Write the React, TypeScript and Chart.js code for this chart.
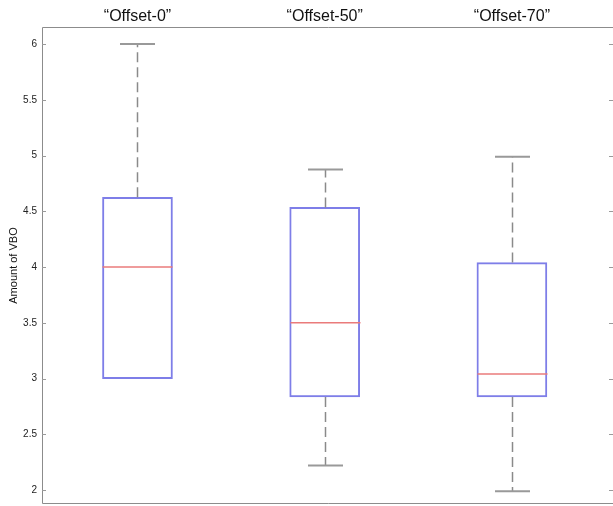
import React, { useEffect, useRef } from "react";
import { Chart, registerables } from "chart.js";

Chart.register(...registerables);

const categories = ["\u201cOffset-0\u201d", "\u201cOffset-50\u201d", "\u201cOffset-70\u201d"];
const whiskerLow = [3.0, 2.22, 1.99];
const q1 = [3.0, 2.835, 2.835];
const median = [4.0, 3.5, 3.04];
const q3 = [4.625, 4.535, 4.04];
const whiskerHigh = [6.0, 4.875, 4.99];
const yTicks = [2, 2.5, 3, 3.5, 4, 4.5, 5, 5.5, 6];
const yTitle = "Amount of VBO";

const FONT = "'Liberation Sans', Arial, Helvetica, sans-serif";

const boxExtras = {
  id: "boxExtras",
  afterDatasetsDraw(chart: any) {
    const { ctx, chartArea, scales } = chart;
    const x = scales.x;
    const y = scales.y;
    const meta = chart.getDatasetMeta(0);
    ctx.save();

    // frame
    ctx.strokeStyle = "#8c8c8c";
    ctx.lineWidth = 1;
    ctx.setLineDash([]);
    ctx.beginPath();
    ctx.moveTo(chartArea.right + 2, chartArea.top + 0.5);
    ctx.lineTo(chartArea.left + 0.5, chartArea.top + 0.5);
    ctx.lineTo(chartArea.left + 0.5, chartArea.bottom - 0.5);
    ctx.lineTo(chartArea.right + 2, chartArea.bottom - 0.5);
    ctx.stroke();

    // inward ticks on both sides
    ctx.strokeStyle = "#9a9a9a";
    yTicks.forEach((t) => {
      const py = Math.round(y.getPixelForValue(t)) + 0.5;
      ctx.beginPath();
      ctx.moveTo(chartArea.left, py);
      ctx.lineTo(chartArea.left + 4, py);
      ctx.moveTo(chartArea.right, py);
      ctx.lineTo(chartArea.right - 4, py);
      ctx.stroke();
    });

    categories.forEach((_, i) => {
      const cx = Math.round(x.getPixelForValue(i + 1)) + 0.5;
      const bar = meta.data[i];
      const half = bar ? bar.width / 2 : 35;
      const pHigh = y.getPixelForValue(whiskerHigh[i]);
      const pLow = y.getPixelForValue(whiskerLow[i]);
      const pQ1 = y.getPixelForValue(q1[i]);
      const pQ3 = y.getPixelForValue(q3[i]);
      const pMed = y.getPixelForValue(median[i]);

      // dashed whiskers
      ctx.strokeStyle = "#8a8a8a";
      ctx.lineWidth = 1.5;
      ctx.setLineDash([10, 5]);
      if (whiskerHigh[i] > q3[i]) {
        ctx.beginPath();
        ctx.moveTo(cx, pQ3);
        ctx.lineTo(cx, pHigh);
        ctx.stroke();
      }
      if (whiskerLow[i] < q1[i]) {
        ctx.beginPath();
        ctx.moveTo(cx, pQ1);
        ctx.lineTo(cx, pLow);
        ctx.stroke();
      }

      // caps
      ctx.setLineDash([]);
      ctx.lineWidth = 2;
      ctx.strokeStyle = "#999999";
      const capHalf = half / 2;
      if (whiskerHigh[i] > q3[i]) {
        ctx.beginPath();
        ctx.moveTo(cx - capHalf, pHigh);
        ctx.lineTo(cx + capHalf, pHigh);
        ctx.stroke();
      }
      if (whiskerLow[i] < q1[i]) {
        ctx.beginPath();
        ctx.moveTo(cx - capHalf, pLow);
        ctx.lineTo(cx + capHalf, pLow);
        ctx.stroke();
      }

      // median
      ctx.strokeStyle = "#ea7b7b";
      ctx.lineWidth = 1.5;
      ctx.beginPath();
      ctx.moveTo(cx - half, pMed);
      ctx.lineTo(cx + half, pMed);
      ctx.stroke();
    });
    ctx.restore();
  },
};

export default function App() {
  const ref = useRef<HTMLCanvasElement | null>(null);

  useEffect(() => {
    if (!ref.current) return;
    const chart = new Chart(ref.current, {
      type: "bar",
      data: {
        datasets: [
          {
            data: categories.map((_, i) => ({ x: i + 1, y: [q1[i], q3[i]] })) as any,
            backgroundColor: "rgba(0,0,0,0)",
            borderColor: "#7e7ee8",
            borderWidth: 1.3,
            borderSkipped: false,
            barThickness: 70,
          },
        ],
      },
      plugins: [boxExtras],
      options: {
        responsive: false,
        animation: false,
        devicePixelRatio: 1,
        layout: { padding: { left: 0, right: 0, top: 0, bottom: 2 } },
        plugins: {
          legend: { display: false },
          tooltip: { enabled: false },
        },
        scales: {
          x: {
            type: "linear",
            position: "top",
            offset: false,
            min: 0.49,
            max: 3.54,
            grid: { display: false, drawTicks: false, offset: false },
            border: { display: false },
            afterBuildTicks: (axis: any) => {
              axis.ticks = categories.map((_, i) => ({ value: i + 1 }));
            },
            afterFit: (axis: any) => {
              axis.height = 27;
              axis.paddingLeft = 0;
              axis.paddingRight = 0;
            },
            ticks: {
              padding: 1,
              color: "#111",
              font: { family: FONT, size: 16 },
              maxRotation: 0,
              autoSkip: false,
              callback: (v: any) => categories[Math.round(Number(v)) - 1] ?? "",
            },
          },
          y: {
            type: "linear",
            min: 1.875,
            max: 6.153,
            grid: { display: false, drawTicks: false },
            border: { display: false },
            afterBuildTicks: (axis: any) => {
              axis.ticks = yTicks.map((v) => ({ value: v }));
            },
            afterFit: (axis: any) => {
              axis.width = 42;
              axis.paddingTop = 0;
              axis.paddingBottom = 0;
            },
            ticks: {
              padding: 5,
              color: "#222",
              font: { family: FONT, size: 10 },
              callback: (v: any) => String(v),
            },
            title: {
              display: true,
              text: yTitle,
              color: "#111",
              font: { family: FONT, size: 11 },
              padding: { top: 7, bottom: 0 },
            },
          },
        },
      } as any,
    });
    return () => chart.destroy();
  }, []);

  return (
    <div style={{ position: "absolute", left: 0, top: 0, width: 613, height: 506, background: "#fff" }}>
      <canvas ref={ref} width={613} height={506} style={{ display: "block" }} />
    </div>
  );
}
